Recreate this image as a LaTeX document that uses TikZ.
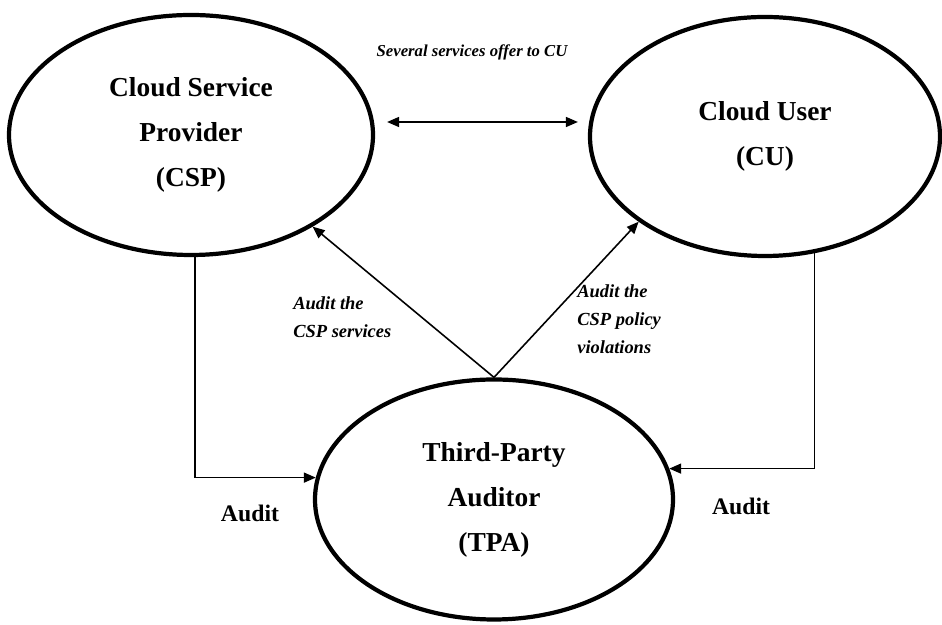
\documentclass[tikz,border=0pt]{standalone}
\usepackage{fontspec}
\setmainfont{Liberation Serif}
\usetikzlibrary{shapes.geometric,arrows.meta}

\begin{document}
\begin{tikzpicture}[
	>={Triangle[length=2.4mm,width=2mm]},
	party/.style={ellipse,draw,line width=2.4pt,inner sep=0pt,align=center,
		font=\bfseries\fontsize{15.6}{25.6}\selectfont},
	link/.style={line width=0.9pt},
	note/.style={inner sep=0pt,align=left,font=\bfseries\itshape\fontsize{10.5}{16}\selectfont},
	tag/.style={inner sep=0pt,font=\bfseries\fontsize{13.5}{16}\selectfont}]
	\useasboundingbox (0,0) rectangle (18.84,12.5);

	\node[party,minimum width=7.28cm,minimum height=4.8cm] (csp) at (3.82,9.8) {Cloud Service\\Provider\\(CSP)};
	\node[party,minimum width=7cm,minimum height=4.78cm] (cu) at (15.3,9.77) {Cloud User\\(CU)};
	\node[party,minimum width=7.16cm,minimum height=4.8cm] (tpa) at (9.88,2.51) {Third-Party\\Auditor\\(TPA)};

	\draw[link,<->] ([shift={(0.24,0.26)}]csp.east) -- ([shift={(-0.2,0.29)}]cu.west);
	\draw[link,->] (tpa.north) -- (csp.-37);
	\draw[link,->] (tpa.north) -- (cu.214);
	\draw[link,->] (csp.-88) |- (tpa.173);
	\draw[link,->] (cu.-67) |- (tpa.10);

	\node[note,font=\bfseries\itshape\fontsize{9.5}{12}\selectfont] (offer) at (9.44,11.46) {Several services offer to CU};
	\node[note,anchor=west] (services) at (5.86,6.16) {Audit the\\CSP services};
	\node[note,anchor=west] (policy) at (11.54,6.12) {Audit the\\CSP policy\\violations};
	\node[tag] (auditcsp) at (5.0,2.24) {Audit};
	\node[tag] (auditcu) at (14.82,2.38) {Audit};
\end{tikzpicture}
\end{document}
